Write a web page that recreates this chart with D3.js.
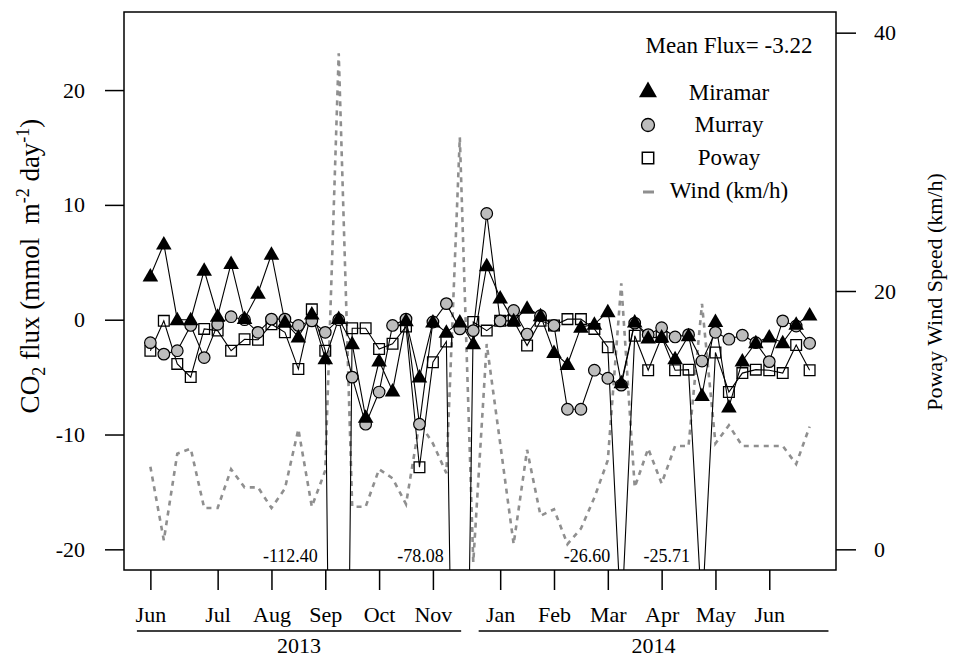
<!DOCTYPE html>
<html><head><meta charset="utf-8">
<script src="https://cdn.jsdelivr.net/npm/d3@7/dist/d3.min.js"></script>
<style>
body{margin:0;background:#fff}
text{font-family:"Liberation Serif","Times New Roman",serif;fill:#000}
</style>
</head><body>
<svg id="c" width="953" height="658"></svg>
<script>
// ---- data (sample number along the x axis, 0..49) ----
const miramar = [3.8,6.6,0.0,0.0,4.3,0.3,4.9,0.1,2.3,5.7,-0.2,-1.5,0.5,-3.4,0.1,-2.1,-8.5,-3.6,-6.2,-0.1,
  -5.0,-0.2,-1.1,-0.2,-2.1,4.7,1.9,-0.1,1.0,0.35,-2.85,-3.9,-0.65,-0.4,0.7,-5.5,-0.2,-1.6,-1.5,-3.4,
  -1.4,-6.6,-0.15,-7.6,-3.6,-2.0,-1.5,-2.0,-0.4,0.4];
const murray = [-2.0,-3.0,-2.7,-0.5,-3.3,-0.4,0.26,0.0,-1.1,0.05,0.05,-0.5,-0.1,-1.1,0.0,-5.0,-9.1,-6.3,-0.5,0.05,
  -9.1,-0.2,1.4,-0.8,-0.95,9.25,-0.1,0.8,-1.25,0.35,-0.5,-7.8,-7.8,-4.4,-5.1,-5.7,-0.3,-1.3,-0.7,-1.5,
  -1.3,-3.6,-1.1,-1.7,-1.35,-2.0,-3.65,-0.1,-0.55,-2.05];
const poway = [-2.7,-0.1,-3.85,-5.0,-0.8,-0.95,-2.7,-1.7,-1.75,-0.4,-1.1,-4.3,0.9,-2.7,-112.40,-0.75,-0.75,-2.55,-2.1,-0.6,
  -12.85,-3.7,-1.9,-78.08,-0.2,-0.95,-0.1,-0.1,-2.25,-0.1,-0.5,0.05,0.05,-0.8,-2.4,-26.60,-1.4,-4.4,-1.5,-4.4,
  -4.35,-25.71,-2.85,-6.3,-4.65,-4.35,-4.4,-4.65,-2.2,-4.4];
const wind = [6.4,0.7,7.4,7.8,3.2,3.2,6.2,4.8,4.8,3.2,4.7,9.3,3.3,6.1,38.4,3.3,3.3,6.2,5.5,3.5,
  9.8,8.2,5.9,31.9,-1.0,15.9,8.2,0.4,7.7,2.6,3.1,0.4,1.6,4.0,6.9,20.6,4.8,7.8,5.1,8.0,
  8.0,19.0,8.2,9.6,8.0,8.0,8.0,8.0,6.6,9.5];
const monthLabels = ["Jun","Jul","Aug","Sep","Oct","Nov","Jan","Feb","Mar","Apr","May","Jun"];
const monthPos = [0,5,9,13,17,21,26,30,34,38,42,46];
const years = ["2013","2014"];
const yearFrom = [-1.0,24.4];
const yearTo = [23.1,50.4];
const fluxTicks = [-20,-10,0,10,20];
const windTicks = [0,20,40];
const offScale = [14,23,35,41];   // Poway samples far below the axis, labelled
const meanFlux = "-3.22";
const seriesNames = ["Miramar","Murray","Poway","Wind (km/h)"];

// ---- layout ----
const L=124,R=836,T=12,B=570;
const svg=d3.select("#c");
const x=d3.scaleLinear().domain([-1.96,50.96]).range([L,R]);
const y=d3.scaleLinear().domain([-21.8,26.8]).range([B,T]);
const yW=d3.scaleLinear().domain([-1.6,41.6]).range([B,T]);
const FS=22;
const labelShift=[21,16,11,12];

svg.append("defs").append("clipPath").attr("id","clip")
  .append("rect").attr("x",L).attr("y",T).attr("width",R-L).attr("height",B-T);
const plot=svg.append("g").attr("clip-path","url(#clip)");

// wind
const wl=d3.line().x((d,i)=>x(i)).y(d=>yW(d));
plot.append("path").datum(wind).attr("d",wl).attr("fill","none")
  .attr("stroke","#8f8f8f").attr("stroke-width",2.6).attr("stroke-dasharray","5,5");

const fl=d3.line().x((d,i)=>x(i)).y(d=>y(d));
[poway,murray,miramar].forEach(s=>{
  plot.append("path").datum(s).attr("d",fl).attr("fill","none")
    .attr("stroke","#000").attr("stroke-width",1.1);
});
const triS=d3.symbol().type(d3.symbolTriangle).size(105);
const sqS=d3.symbol().type(d3.symbolSquare).size(115);
plot.selectAll(".pw").data(poway).join("path").attr("d",sqS)
  .attr("transform",(d,i)=>`translate(${x(i)},${y(d)})`)
  .attr("fill","none").attr("stroke","#000").attr("stroke-width",1.3);
plot.selectAll(".mu").data(murray).join("circle")
  .attr("cx",(d,i)=>x(i)).attr("cy",d=>y(d)).attr("r",5.8)
  .attr("fill","#bdbdbd").attr("stroke","#000").attr("stroke-width",1.2);
plot.selectAll(".mi").data(miramar).join("path").attr("d",triS)
  .attr("transform",(d,i)=>`translate(${x(i)},${y(d)+1})`).attr("fill","#000");

// box
svg.append("rect").attr("x",L).attr("y",T).attr("width",R-L).attr("height",B-T)
  .attr("fill","none").attr("stroke","#000").attr("stroke-width",1.5);

// axes
function styleAxis(g){
  g.select(".domain").remove();
  g.selectAll(".tick line").attr("stroke","#000").attr("stroke-width",1.5);
  g.selectAll("text").style("font-family",'"Liberation Serif",serif').style("font-size",FS+"px").attr("fill","#000");
}
const plain=d=>String(d);
svg.append("g").attr("transform",`translate(${L-19},0)`)
  .call(d3.axisLeft(y).tickValues(fluxTicks).tickSize(0).tickPadding(20).tickFormat(plain))
  .call(styleAxis);
svg.append("g").attr("transform",`translate(${L},0)`)
  .call(d3.axisLeft(y).tickValues(fluxTicks).tickSize(19).tickFormat(""))
  .call(styleAxis);
svg.append("g").attr("transform",`translate(${R},0)`)
  .call(d3.axisRight(yW).tickValues(windTicks).tickSize(20).tickPadding(18).tickFormat(plain))
  .call(styleAxis);
svg.append("g").attr("transform",`translate(0,${B})`)
  .call(d3.axisBottom(x).tickValues(monthPos).tickSize(20).tickPadding(16).tickFormat((d,i)=>monthLabels[i]))
  .call(styleAxis);

// years
years.forEach((yr,i)=>{
  svg.append("line").attr("x1",x(yearFrom[i])).attr("x2",x(yearTo[i])).attr("y1",631).attr("y2",631)
    .attr("stroke","#000").attr("stroke-width",1.5);
  svg.append("text").attr("x",x((yearFrom[i]+yearTo[i])/2)).attr("y",653).attr("text-anchor","middle")
    .style("font-size",FS+"px").text(yr);
});

// off-scale labels
offScale.forEach((i,k)=>{
  svg.append("text").attr("x",x(i)-labelShift[k]).attr("y",562).attr("text-anchor","end")
    .style("font-size","18px").text(poway[i].toFixed(2));
});

// axis titles
const lt=svg.append("text").attr("transform","translate(39,266) rotate(-90)")
  .attr("text-anchor","middle").style("font-size","27px");
lt.append("tspan").text("CO");
lt.append("tspan").attr("dy",6).style("font-size","18px").text("2");
lt.append("tspan").attr("dy",-6).text("\u00a0flux\u00a0(mmol\u00a0\u00a0m");
lt.append("tspan").attr("dy",-10).style("font-size","18px").text("-2");
lt.append("tspan").attr("dy",10).text("\u00a0day");
lt.append("tspan").attr("dy",-10).style("font-size","18px").text("-1");
lt.append("tspan").attr("dy",10).text(")");
svg.append("text").attr("transform","translate(942,292) rotate(-90)")
  .attr("text-anchor","middle").style("font-size","22px").text("Poway Wind Speed (km/h)");

// legend
const lx=648, tx=729;
svg.append("text").attr("x",tx).attr("y",53).attr("text-anchor","middle").style("font-size","23px")
  .text("Mean Flux= "+meanFlux);
const ly=[100,132,165,198];
svg.append("path").attr("d",d3.symbol().type(d3.symbolTriangle).size(140))
  .attr("transform",`translate(${lx},${ly[0]-8})`).attr("fill","#000");
svg.append("circle").attr("cx",lx).attr("cy",ly[1]-7).attr("r",6.5)
  .attr("fill","#bdbdbd").attr("stroke","#000").attr("stroke-width",1.3);
svg.append("path").attr("d",d3.symbol().type(d3.symbolSquare).size(130))
  .attr("transform",`translate(${lx},${ly[2]-7})`).attr("fill","none").attr("stroke","#000").attr("stroke-width",1.5);
svg.append("line").attr("x1",lx-5).attr("x2",lx+6).attr("y1",ly[3]-6).attr("y2",ly[3]-6)
  .attr("stroke","#8f8f8f").attr("stroke-width",3);
seriesNames.forEach((n,i)=>{
  svg.append("text").attr("x",tx).attr("y",ly[i]).attr("text-anchor","middle").style("font-size","23px").text(n);
});
</script>
</body></html>
